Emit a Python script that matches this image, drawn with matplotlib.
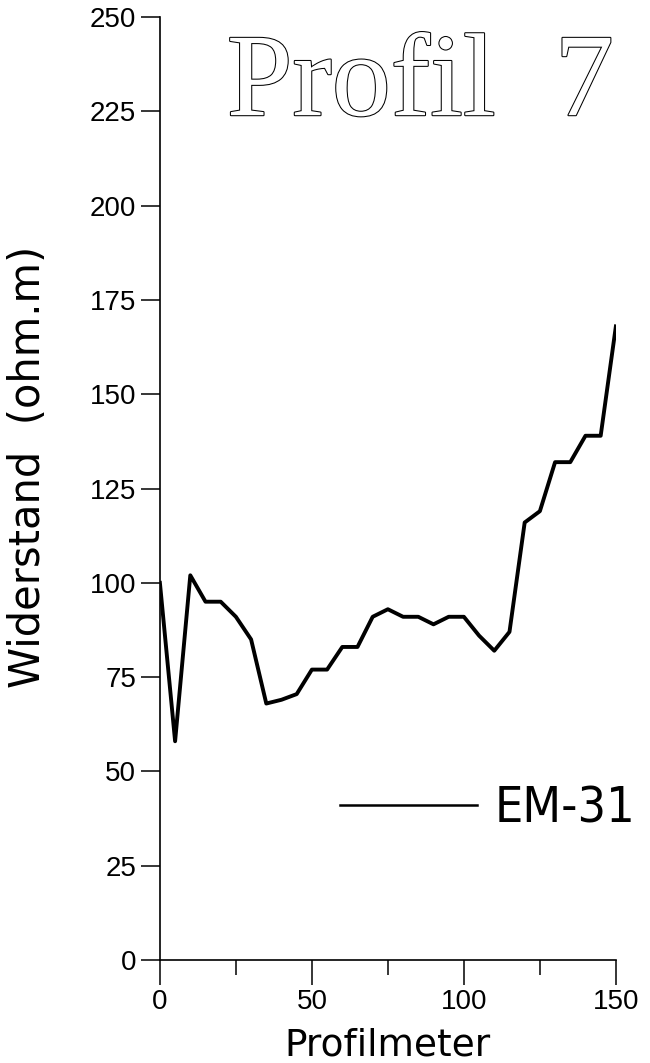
import numpy as np
import matplotlib
matplotlib.use("Agg")
import matplotlib.pyplot as plt
import matplotlib.patheffects as pe

# Messwerte Profil 7 (alle 5 m)
profilmeter = [0, 5, 10, 15, 20, 25, 30, 35, 40, 45, 50, 55, 60, 65, 70, 75,
               80, 85, 90, 95, 100, 105, 110, 115, 120, 125, 130, 135, 140, 145, 150]
widerstand = [100, 58, 102, 95, 95, 91, 85, 68, 69, 70.5, 77, 77, 83, 83, 91, 93,
              91, 91, 89, 91, 91, 86, 82, 87, 116, 119, 132, 132, 139, 139, 168]
x_major = [0, 50, 100, 150]
x_minor = [25, 75, 125]
y_ticks = [0, 25, 50, 75, 100, 125, 150, 175, 200, 225, 250]

plt.rcParams['font.family'] = ['Liberation Sans', 'DejaVu Sans']

fig = plt.figure(figsize=(6.5, 10.63), dpi=100)
ax = fig.add_axes([0.246, 0.0969, 0.7015, 0.887])

ax.plot(profilmeter, widerstand, color='black', linewidth=2.8, label='EM-31')

ax.set_xlim(0, 150)
ax.set_ylim(0, 250)
ax.spines['top'].set_visible(False)
ax.spines['right'].set_visible(False)
ax.spines['left'].set_linewidth(1.2)
ax.spines['bottom'].set_linewidth(1.2)

ax.set_xticks(x_major)
ax.set_xticks(x_minor, minor=True)
ax.set_yticks(y_ticks)
ax.tick_params(axis='y', direction='out', length=14, width=1.1, labelsize=20, pad=3)
ax.tick_params(axis='x', which='major', direction='out', length=18, width=1.1,
               labelsize=20, pad=3)
ax.tick_params(axis='x', which='minor', direction='out', length=11, width=1.1)

ax.set_xlabel('Profilmeter', fontsize=27, family=['DejaVu Sans'], labelpad=9)
ax.set_ylabel('Widerstand  (ohm.m)', fontsize=30, family=['DejaVu Sans'])
ax.yaxis.set_label_coords(-0.243, 0.523)

# Titel als Konturschrift
ax.text(22, 224, 'Profil  7', fontsize=85, family=['Liberation Serif', 'DejaVu Serif'],
        color='white', va='baseline', ha='left',
        path_effects=[pe.withStroke(linewidth=1.5, foreground='black')])

leg = ax.legend(loc='center left', bbox_to_anchor=(0.523, 0.239),
                bbox_transform=fig.transFigure, frameon=False,
                borderpad=0, borderaxespad=0, handlelength=2.75,
                handletextpad=0.35,
                prop={'family': 'DejaVu Sans', 'stretch': 'condensed', 'size': 36})
for line in leg.get_lines():
    line.set_linewidth(1.8)

fig.savefig('out.png', dpi=100)
